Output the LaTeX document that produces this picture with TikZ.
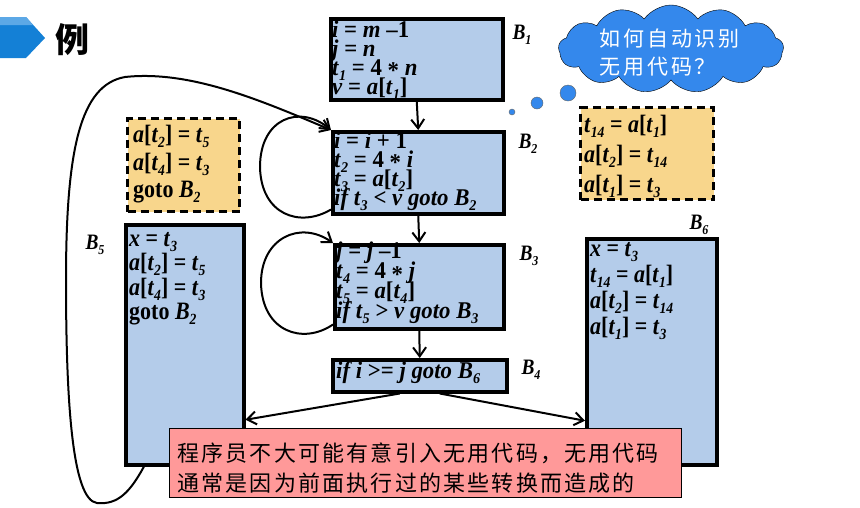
\documentclass[tikz,border=0pt]{standalone}
\usepackage{fontspec}
\setmainfont{Liberation Serif}
\newfontfamily\codefont{Liberation Serif}[FakeStretch=0.88]
\newfontfamily\codefontw{Liberation Serif}[FakeStretch=0.95]
\newfontfamily\cjk{Noto Sans CJK SC}
\newfontfamily\cjksp{Noto Sans CJK SC}[LetterSpace=10]
\newfontfamily\cjkcl{Noto Sans CJK SC}[LetterSpace=14]
\usetikzlibrary{shapes.symbols,arrows.meta,calc}
\definecolor{bbox}{HTML}{B4CCEA}
\definecolor{ybox}{HTML}{F8D68C}
\definecolor{rbox}{HTML}{FF9999}
\definecolor{cblue}{HTML}{3488EC}
\definecolor{hblue}{HTML}{1480D6}
\definecolor{hlight}{HTML}{5CA8E6}
\newcommand\V[1]{\textit{#1}}
\newcommand\Sb[1]{\raisebox{-0.45ex}{\scalebox{0.62}{\textit{#1}}}}
\newcommand\Ast{\raisebox{-0.3ex}{*}}
\newcommand\tightlines{\lineskiplimit=-100pt\relax\lineskip=0pt\relax}
\tikzset{
 blk/.style={draw=black, line width=3.5pt, fill=bbox, rectangle, anchor=north west, inner sep=0pt},
 ybk/.style={draw=black, line width=3pt, dash pattern=on 8pt off 5pt, fill=ybox, rectangle, anchor=north west, inner sep=0pt},
 codes/.style={anchor=north west, align=left, inner sep=1pt, font=\codefontw\bfseries\fontsize{24}{18.8}\selectfont\tightlines},
 codeb/.style={anchor=north west, align=left, inner sep=1pt, font=\codefont\bfseries\fontsize{25}{24.5}\selectfont\tightlines},
 lbl/.style={font=\codefont\bfseries\itshape\fontsize{22}{22}\selectfont, inner sep=0pt},
 conn/.style={line width=2pt, draw=black},
 arr/.style={-{Straight Barb[length=9pt,width=13pt,line width=2pt]}}
}
\begin{document}
\begin{tikzpicture}[x=1pt,y=-1pt]
\useasboundingbox (0,0) rectangle (860,507);
\fill[white] (0,0) rectangle (860,507);
% header
\fill[hblue] (0,17) -- (26,17) -- (45,38) -- (26,58) -- (0,58) -- cycle;
\fill[hlight] (0,17) -- (26,17) -- (33,25) -- (0,25) -- cycle;
\node[font=\cjk\bfseries\fontsize{34}{34}\selectfont, inner sep=0pt] (title) at (72,40) {例};
% cloud
\node[cloud, draw=black, thin, fill=cblue, cloud puffs=13, cloud puff arc=110, aspect=2.5, minimum width=225, minimum height=88, inner sep=0pt] (cl) at (671,49) {};
\node[anchor=north west, align=left, text=white, inner sep=0pt, font=\cjkcl\fontsize{21}{28}\selectfont] (clt) at (599,29) {如何自动识别\\无用代码？};
\node[circle, fill=cblue, draw=black!60, thin, minimum size=16, inner sep=0pt] (c1) at (568,93) {};
\node[circle, fill=cblue, draw=black!60, thin, minimum size=12, inner sep=0pt] (c2) at (537,103) {};
\node[circle, fill=cblue, draw=black!60, thin, minimum size=6, inner sep=0pt] (c3) at (512,112) {};
% blocks
\node[blk, minimum width=172, minimum height=81] (B1) at (329,17) {};
\node[blk, minimum width=171, minimum height=82] (B2) at (331,130) {};
\node[blk, minimum width=169, minimum height=84] (B3) at (333,243) {};
\node[blk, minimum width=174, minimum height=32] (B4) at (331,358) {};
\node[blk, minimum width=118, minimum height=240] (B5) at (124,223) {};
\node[blk, minimum width=130, minimum height=226] (B6) at (585,237) {};
\node[ybk, minimum width=112, minimum height=93] (Y1) at (126,117) {};
\node[ybk, minimum width=133, minimum height=92] (Y2) at (579,106) {};
% texts
\node[codes] (t1) at ([xshift=2pt,yshift=-3pt]B1.north west) {\V{i} = \V{m} –1\\ \V{j} = \V{n}\\ \V{t}\Sb{1} = 4 \Ast{} \V{n}\\ \V{v} = \V{a}[\V{t}\Sb{1}]};
\node[codes] (t2) at ([xshift=2pt,yshift=-1pt]B2.north west) {\V{i} = \V{i} + 1\\ \V{t}\Sb{2} = 4 \Ast{} \V{i}\\ \V{t}\Sb{3} = \V{a}[\V{t}\Sb{2}]\\ \V{if t}\Sb{3} < \V{v goto B}\Sb{2}};
\node[codes, font=\codefontw\bfseries\fontsize{24}{20}\selectfont\tightlines] (t3) at ([xshift=2pt,yshift=2pt]B3.north west) {\V{j} = \V{j} –1\\ \V{t}\Sb{4} = 4 \Ast{} \V{j}\\ \V{t}\Sb{5} = \V{a}[\V{t}\Sb{4}]\\ \V{if t}\Sb{5} > \V{v goto B}\Sb{3}};
\node[codes] (t4) at ([xshift=4pt,yshift=-2pt]B4.north west) {\V{if i} >= \V{j goto B}\Sb{6}};
\node[codeb] (t5) at ([xshift=4pt,yshift=-8pt]B5.north west) {\V{x} = \V{t}\Sb{3}\\ \V{a}[\V{t}\Sb{2}] = \V{t}\Sb{5}\\ \V{a}[\V{t}\Sb{4}] = \V{t}\Sb{3}\\ goto \V{B}\Sb{2}};
\node[codeb, font=\codefont\bfseries\fontsize{25}{26}\selectfont\tightlines] (t6) at ([xshift=4pt,yshift=-4pt]B6.north west) {\V{x} = \V{t}\Sb{3}\\ \V{t}\Sb{14} = \V{a}[\V{t}\Sb{1}]\\ \V{a}[\V{t}\Sb{2}] = \V{t}\Sb{14}\\ \V{a}[\V{t}\Sb{1}] = \V{t}\Sb{3}};
\node[codeb, font=\codefont\bfseries\fontsize{25}{27.5}\selectfont\tightlines] (ty1) at ([xshift=6pt,yshift=-7pt]Y1.north west) {\V{a}[\V{t}\Sb{2}] = \V{t}\Sb{5}\\ \V{a}[\V{t}\Sb{4}] = \V{t}\Sb{3}\\ goto \V{B}\Sb{2}};
\node[codeb, font=\codefont\bfseries\fontsize{25}{30}\selectfont\tightlines] (ty2) at ([xshift=4pt,yshift=-8pt]Y2.north west) {\V{t}\Sb{14} = \V{a}[\V{t}\Sb{1}]\\ \V{a}[\V{t}\Sb{2}] = \V{t}\Sb{14}\\ \V{a}[\V{t}\Sb{1}] = \V{t}\Sb{3}};
% labels
\node[lbl] (L1) at (522,35) {B\Sb{1}};
\node[lbl] (L2) at (528,144) {B\Sb{2}};
\node[lbl] (L3) at (529,256) {B\Sb{3}};
\node[lbl] (L4) at (531,370) {B\Sb{4}};
\node[lbl] (L5) at (95,245) {B\Sb{5}};
\node[lbl] (L6) at (699,225) {B\Sb{6}};
% connectors
\draw[conn,arr] (B1.south) -- (B2.north);
\draw[conn,arr] (B2.south) -- (B3.north);
\draw[conn,arr] (B3.south) -- (B4.north);
\draw[conn,arr] ([xshift=-20pt]B4.south) -- ([yshift=-75pt]B5.east);
\draw[conn,arr] ([xshift=20pt]B4.south) -- ([yshift=-69pt]B6.west);
\draw[conn,arr] ([yshift=6pt]B2.south west) .. controls (300,228) and (261,215) .. (260,167) .. controls (260,118) and (300,104) .. (B2.north west);
\draw[conn,arr] ([yshift=6pt]B3.south west) .. controls (303,345) and (262,332) .. (261,283) .. controls (261,238) and (300,220) .. (B3.north west);
\draw[conn,arr] ([xshift=20pt]B5.south west) .. controls (130,492) and (118,505) .. (97,503) .. controls (72,500) and (66,400) .. (66,280) .. controls (66,150) and (80,85) .. (125,77) .. controls (190,70) and (260,100) .. (B2.north west);
% red note
\node[draw=black, line width=1.2pt, fill=rbox, rectangle, anchor=north west, minimum width=512, minimum height=69, inner sep=0pt] (R) at (169,428) {};
\node[anchor=north west, align=left, inner sep=0pt, font=\cjksp\fontsize{22}{30}\selectfont] (Rt) at ([xshift=8pt,yshift=-15pt]R.north west) {程序员不大可能有意引入无用代码，无用代码\\通常是因为前面执行过的某些转换而造成的};
\end{tikzpicture}
\end{document}
